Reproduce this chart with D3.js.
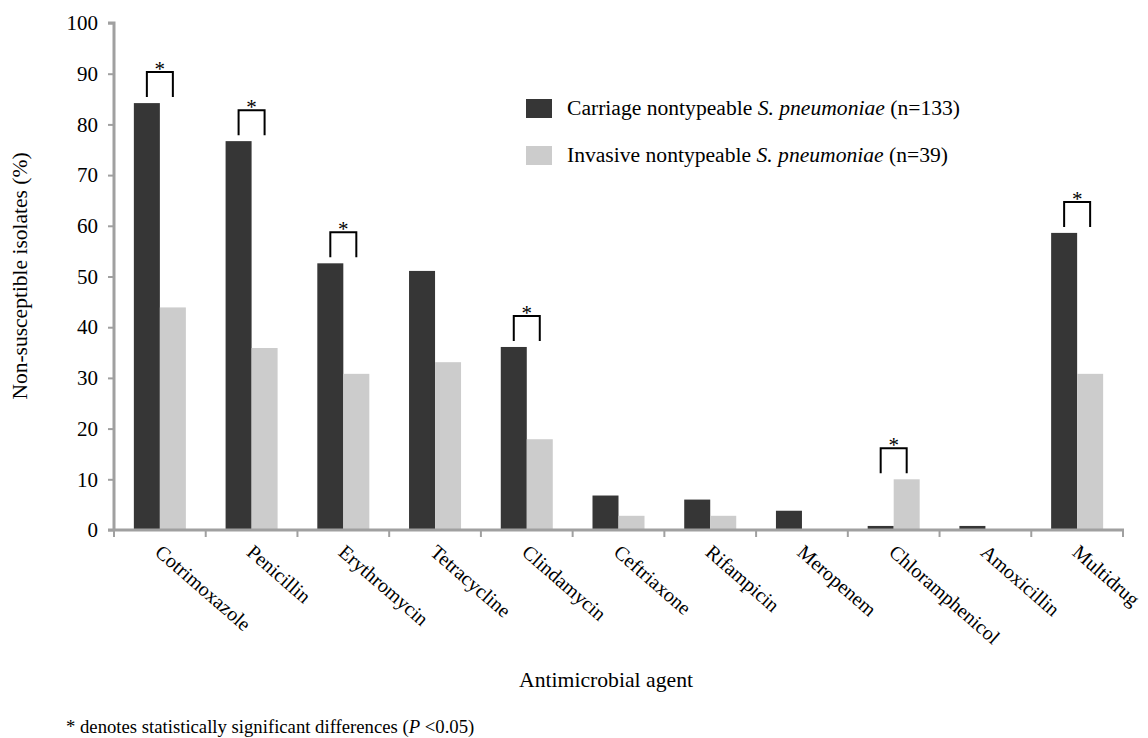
<!DOCTYPE html>
<html>
<head>
    <meta charset="utf-8">
    <title>non-susceptible isolates</title>
    <script type="text/javascript" src="https://cdn.jsdelivr.net/npm/d3@7"></script>
    <style>
      body { margin: 0; background: #fff; }
      svg text { font-family: "Liberation Serif", "Times New Roman", Times, "DejaVu Serif", serif !important; fill: #000; }
    </style>
</head>
<body>
<script type="text/javascript">

        var width = 1148
        var height = 738

        // data
        var agents = ["Cotrimoxazole", "Penicillin", "Erythromycin", "Tetracycline", "Clindamycin",
                      "Ceftriaxone", "Rifampicin", "Meropenem", "Chloramphenicol", "Amoxicillin", "Multidrug"]
        var carriage = [84.2, 76.7, 52.6, 51.1, 36.1, 6.8, 6.0, 3.8, 0.8, 0.8, 58.6]
        var invasive = [43.9, 35.9, 30.8, 33.1, 17.9, 2.8, 2.8, 0, 10.0, 0, 30.8]
        var significant = ["Cotrimoxazole", "Penicillin", "Erythromycin", "Clindamycin", "Chloramphenicol", "Multidrug"]
        var yTicks = [0, 10, 20, 30, 40, 50, 60, 70, 80, 90, 100]
        var seriesNames = ["carriage", "invasive"]
        var colors = ["#363636", "#cccccc"]

        var svg = d3.select("body").append("svg").attr("width", width).attr("height", height)

        var x0 = 114, x1 = 1123, y0 = 530, y1 = 23
        var axisColor = "#a0a0a0"

        var x = d3.scaleBand().domain(agents).range([x0, x1]).paddingInner(0.433).paddingOuter(0.2165)
        var xs = d3.scaleBand().domain(seriesNames).range([0, x.bandwidth()])
        var y = d3.scaleLinear().domain([0, 100]).range([y0, y1])

        var rows = agents.map(function(a, i) {
            return {agent: a, carriage: carriage[i], invasive: invasive[i]}
        })

        // bars
        var groups = svg.selectAll("g.grp").data(rows).enter().append("g")
            .attr("class", "grp")
            .attr("transform", function(d) { return "translate(" + x(d.agent) + ",0)" })

        groups.selectAll("rect").data(function(d) {
                return seriesNames.map(function(s, i) { return {s: s, v: d[s], c: colors[i]} })
            })
            .enter().append("rect")
            .attr("x", function(d) { return xs(d.s) })
            .attr("width", xs.bandwidth())
            .attr("y", function(d) { return y(d.v) })
            .attr("height", function(d) { return y(0) - y(d.v) })
            .attr("fill", function(d) { return d.c })

        // y axis
        var yAxis = d3.axisLeft(y).tickValues(yTicks).tickSize(6).tickPadding(10)
        var gy = svg.append("g").attr("transform", "translate(" + x0 + ",0)").call(yAxis)
        gy.attr("font-family", null).attr("font-size", null)
        gy.select(".domain").attr("stroke", axisColor).attr("stroke-width", 3).attr("d", "M-6," + y1 + "H0V" + y0)
        gy.selectAll(".tick line").attr("stroke", axisColor).attr("stroke-width", 2)
        gy.selectAll(".tick text").style("font-size", "21px").attr("fill", "#000")

        // x axis: ticks at category boundaries
        svg.append("line")
            .attr("x1", x0 - 6).attr("x2", x1 + 1)
            .attr("y1", y0).attr("y2", y0)
            .attr("stroke", axisColor).attr("stroke-width", 3)
        var bounds = d3.range(agents.length + 1).map(function(i) { return x0 + i * x.step() })
        svg.selectAll("line.xt").data(bounds).enter().append("line")
            .attr("class", "xt")
            .attr("x1", function(d) { return d }).attr("x2", function(d) { return d })
            .attr("y1", y0).attr("y2", y0 + 7)
            .attr("stroke", axisColor).attr("stroke-width", 2)

        // rotated category labels
        svg.selectAll("text.cat").data(agents).enter().append("text")
            .attr("class", "cat")
            .attr("transform", function(d) {
                return "translate(" + (x(d) + x.bandwidth() / 2 - 6) + "," + (y0 + 24) + ") rotate(41)"
            })
            .attr("text-anchor", "start")
            .style("font-size", "20px")
            .text(function(d) { return d })

        // significance brackets
        rows.forEach(function(d) {
            if (significant.indexOf(d.agent) < 0) return
            var xa = x(d.agent) + xs("carriage") + xs.bandwidth() / 2
            var xb = x(d.agent) + xs("invasive") + xs.bandwidth() / 2
            var bottom = y(Math.max(d.carriage, d.invasive)) - 6
            var top = bottom - 25
            svg.append("path")
                .attr("d", "M" + xa + "," + bottom + "V" + top + "H" + xb + "V" + bottom)
                .attr("fill", "none").attr("stroke", "#000").attr("stroke-width", 2)
            svg.append("text")
                .attr("x", (xa + xb) / 2).attr("y", top + 4)
                .attr("text-anchor", "middle")
                .style("font-size", "21px")
                .text("*")
        })

        // legend
        var legend = svg.append("g").attr("transform", "translate(526,99)")
        var labels = [["Carriage nontypeable ", "S. pneumoniae", " (n=133)"],
                      ["Invasive nontypeable ", "S. pneumoniae", " (n=39)"]]
        labels.forEach(function(l, i) {
            legend.append("rect").attr("x", 0).attr("y", i * 47)
                .attr("width", 26).attr("height", 19).attr("fill", colors[i])
            var t = legend.append("text").attr("x", 41).attr("y", i * 47 + 16).style("font-size", "21.6px")
            t.append("tspan").text(l[0])
            t.append("tspan").style("font-style", "italic").text(l[1])
            t.append("tspan").text(l[2])
        })

        // axis titles
        svg.append("text")
            .attr("transform", "translate(27," + 276 + ") rotate(-90)")
            .attr("text-anchor", "middle")
            .style("font-size", "21.5px")
            .text("Non-susceptible isolates (%)")

        svg.append("text")
            .attr("x", 606).attr("y", 687)
            .attr("text-anchor", "middle")
            .style("font-size", "21.7px")
            .text("Antimicrobial agent")

        var foot = svg.append("text").attr("x", 66).attr("y", 733).style("font-size", "18.7px")
        foot.append("tspan").text("* denotes statistically significant differences (")
        foot.append("tspan").style("font-style", "italic").text("P")
        foot.append("tspan").text(" <0.05)")

</script>
</body>
</html>
